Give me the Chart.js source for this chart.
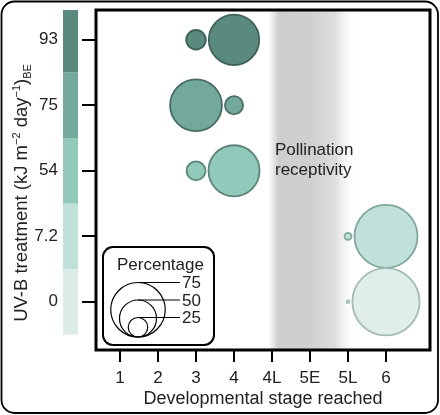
<!DOCTYPE html>
<html><head><meta charset="utf-8">
<script src="https://cdn.jsdelivr.net/npm/chart.js@4.4.0/dist/chart.umd.min.js"></script>
<style>html,body{margin:0;padding:0;background:#fff}#wrap{width:440px;height:415px}</style>
</head><body><div id="wrap"><canvas id="c" width="440" height="415"></canvas></div>
<script>
// ---- data ----
const stages = ['1','2','3','4','4L','5E','5L','6'];
const treatments = ['0','7.2','54','75','93'];
const stages0  = ['5L','6']; const pct0  = [4, 96];
const stages7  = ['5L','6']; const pct7  = [10, 90];
const stages54 = ['3','4'];  const pct54 = [27, 73];
const stages75 = ['3','4'];  const pct75 = [74, 26];
const stages93 = ['3','4'];  const pct93 = [28, 72];
const legendPcts = [75, 50, 25];

// ---- styles ----
const FONT = "'Liberation Sans', Arial, Helvetica, sans-serif";
const TXT = '#222';
const fills   = ['#dfeee9','#c0e1d9','#91c9bb','#72a99c','#5a8a7e'];
const borders = ['#a3bdb6','#7fa79d','#5c8679','#4a6e65','#3e6259'];
const barFills = ['#dcede8','#c0e1d9','#92c9bb','#74aa9d','#5c897e'];
const RK = 0.35; // radius (px) per percent

const seriesStages = [stages0, stages7, stages54, stages75, stages93];
const seriesPct = [pct0, pct7, pct54, pct75, pct93];

const datasets = treatments.map((t, ti) => ({
  label: t,
  data: seriesStages[ti].map((s, k) => ({ x: stages.indexOf(s) + 1, y: ti, r: seriesPct[ti][k] * RK })),
  backgroundColor: fills[ti],
  borderColor: borders[ti],
  borderWidth: 1.8
}));

const decor = {
  id: 'decor',
  beforeDraw(chart) {
    const ctx = chart.ctx;
    ctx.save(); ctx.fillStyle = '#fff'; ctx.fillRect(0, 0, chart.width, chart.height); ctx.restore();
  },
  beforeDatasetsDraw(chart) {
    const ctx = chart.ctx, a = chart.chartArea, xs = chart.scales.x;
    const x0 = xs.getPixelForValue(4.9), x1 = xs.getPixelForValue(7.25);
    const g = ctx.createLinearGradient(x0, 0, x1, 0);
    g.addColorStop(0, 'rgba(200,200,200,0)');
    g.addColorStop(0.12, 'rgba(205,205,205,1)');
    g.addColorStop(0.5, 'rgba(208,208,208,1)');
    g.addColorStop(0.75, 'rgba(222,222,222,1)');
    g.addColorStop(1, 'rgba(255,255,255,0)');
    ctx.save(); ctx.fillStyle = g; ctx.fillRect(x0, a.top, x1 - x0, a.bottom - a.top); ctx.restore();
  },
  afterDraw(chart) {
    const ctx = chart.ctx, a = chart.chartArea, xs = chart.scales.x, ys = chart.scales.y;
    ctx.save();
    // plot frame
    ctx.strokeStyle = '#000'; ctx.lineWidth = 3;
    ctx.strokeRect(a.left, a.top, a.right - a.left, a.bottom - a.top);
    // outer rounded frame
    ctx.lineWidth = 1.8;
    ctx.beginPath(); ctx.roundRect(1.5, 1.5, chart.width - 3.5, chart.height - 3.5, 13); ctx.stroke();
    // color bar
    treatments.forEach((t, i) => {
      let y0 = ys.getPixelForValue(i + 0.5), y1 = ys.getPixelForValue(i - 0.5);
      y0 = Math.max(y0, a.top);
      ctx.fillStyle = barFills[i];
      ctx.fillRect(63, y0, 15, y1 - y0);
    });
    // y title with super/subscripts
    ctx.save();
    ctx.translate(20, (a.top + a.bottom) / 2 + 13);
    ctx.rotate(-Math.PI / 2);
    ctx.fillStyle = TXT; ctx.textBaseline = 'alphabetic'; ctx.textAlign = 'left';
    const big = "18.5px " + FONT, small = "11px " + FONT;
    const parts = [
      ['UV-B treatment (kJ m', big, 0], ['\u22122', small, -7], [' day', big, 0],
      ['\u22121', small, -7], [')', big, 0], ['BE', small, 4]
    ];
    let total = 0;
    parts.forEach(p => { ctx.font = p[1]; total += ctx.measureText(p[0]).width; });
    let cx = -total / 2; const base = 6.5;
    parts.forEach(p => { ctx.font = p[1]; ctx.fillText(p[0], cx, base + p[2]); cx += ctx.measureText(p[0]).width; });
    ctx.restore();
    // pollination text
    ctx.fillStyle = TXT; ctx.font = "17px " + FONT; ctx.textAlign = 'left'; ctx.textBaseline = 'middle';
    const px = xs.getPixelForValue(5) + 3, py = ys.getPixelForValue(2);
    ctx.fillText('Pollination', px, py - 20);
    ctx.fillText('receptivity', px, py);
    // size legend
    const bx = a.left + 7, by = a.bottom - 103, bw = 111, bh = 98;
    ctx.fillStyle = '#fff'; ctx.strokeStyle = '#000'; ctx.lineWidth = 2;
    ctx.beginPath(); ctx.roundRect(bx, by, bw, bh, 10); ctx.fill(); ctx.stroke();
    ctx.fillStyle = TXT; ctx.font = "17px " + FONT; ctx.textBaseline = 'middle';
    ctx.fillText('Percentage', bx + 14, by + 18);
    const ccx = bx + 35, cb = a.bottom - 13, lx = bx + 77;
    ctx.lineWidth = 1.2; ctx.strokeStyle = '#000';
    legendPcts.forEach(p => {
      const r = p * RK + 1;
      ctx.beginPath(); ctx.arc(ccx, cb - r, r, 0, Math.PI * 2); ctx.stroke();
      ctx.beginPath(); ctx.moveTo(ccx, cb - 2 * r); ctx.lineTo(lx, cb - 2 * r); ctx.stroke();
      ctx.fillText(String(p), lx + 2, cb - 2 * r + 1);
    });
    ctx.restore();
  }
};

new Chart(document.getElementById('c'), {
  type: 'bubble',
  data: { datasets },
  options: {
    responsive: false, animation: false, devicePixelRatio: 1,
    layout: { autoPadding: false, padding: { left: 0, right: 10, top: 10, bottom: 0 } },
    plugins: { legend: { display: false }, tooltip: { enabled: false } },
    scales: {
      x: {
        type: 'linear', min: 0.368, max: 9.158,
        afterBuildTicks: s => { s.ticks = stages.map((_, i) => ({ value: i + 1 })); },
        afterFit: s => { s.height = 65; s.paddingLeft = 0; s.paddingRight = 0; },
        ticks: { callback: (v, i) => stages[i], font: { size: 17, family: FONT }, color: TXT, padding: 6, maxRotation: 0, autoSkip: false },
        grid: { drawOnChartArea: false, color: '#000', lineWidth: 2, tickLength: 12 },
        border: { display: false },
        title: { display: true, text: 'Developmental stage reached', font: { size: 18, family: FONT }, color: TXT, padding: { top: 0, bottom: 5 } }
      },
      y: {
        type: 'linear', min: -0.736, max: 4.455,
        afterBuildTicks: s => { s.ticks = treatments.map((_, i) => ({ value: i })); },
        afterFit: s => { s.width = 96; s.paddingTop = 0; s.paddingBottom = 0; },
        ticks: { callback: (v, i) => treatments[i], font: { size: 17, family: FONT }, color: TXT, padding: 24, autoSkip: false },
        grid: { drawOnChartArea: false, color: '#000', lineWidth: 2, tickLength: 14 },
        border: { display: false }
      }
    }
  },
  plugins: [decor]
});
</script>
</body></html>
